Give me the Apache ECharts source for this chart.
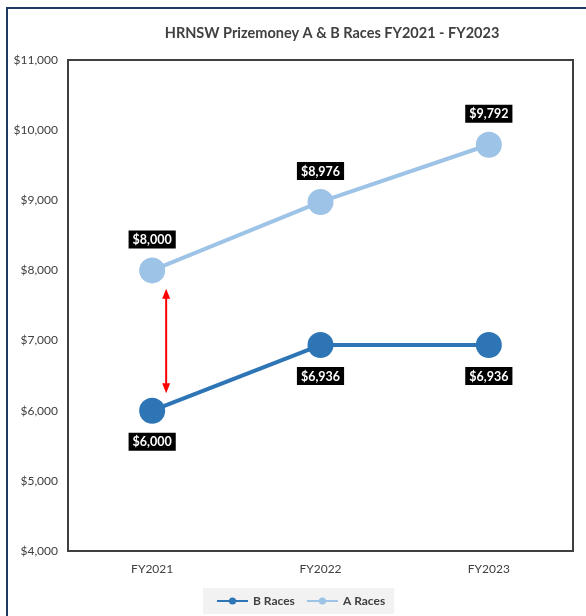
<!DOCTYPE html>
<html>
<head>
<meta charset="utf-8">
<script src="https://cdn.jsdelivr.net/npm/echarts@6/dist/echarts.min.js"></script>
<style>html,body{margin:0;padding:0;background:#fff;}#c{width:586px;height:616px;}</style>
</head>
<body>
<div id="c"></div>
<script>
const categories = ['FY2021', 'FY2022', 'FY2023'];
const bRaces = [6000, 6936, 6936];
const aRaces = [8000, 8976, 9792];
const yTicks = { min: 4000, max: 11000, interval: 1000 };
const arrowSpan = [7740, 6250]; // red double arrow between A and B at FY2021

const chart = echarts.init(document.getElementById('c'));
const fmt = v => '$' + v.toLocaleString('en-US');
const FONT = 'Lato, "Open Sans", sans-serif';
const labelStyle = {
  show: true,
  formatter: p => fmt(p.value),
  color: '#fff',
  backgroundColor: '#000',
  fontFamily: FONT,
  fontWeight: 'bold',
  fontSize: 12.5,
  padding: [3, 4, 2, 4],
  distance: 9
};

chart.setOption({
  animation: false,
  backgroundColor: '#fff',
  graphic: [{
    type: 'rect',
    shape: { x: 7, y: 8, width: 620, height: 640 },
    style: { fill: 'none', stroke: '#1F3864', lineWidth: 2 },
    silent: true
  }],
  title: {
    text: 'HRNSW Prizemoney A & B Races FY2021 - FY2023',
    left: 327, top: 21, textAlign: 'center',
    textStyle: { fontFamily: FONT, fontWeight: 'bold', fontSize: 14.5, color: '#404040' }
  },
  grid: {
    left: 68, right: 13, top: 60, bottom: 65,
    show: true, borderColor: '#404040', borderWidth: 2, backgroundColor: 'transparent'
  },
  legend: {
    top: 588, left: 203,
    backgroundColor: '#F2F2F2',
    padding: [7, 9, 7, 13],
    itemWidth: 31, itemHeight: 9, itemGap: 11,
    itemStyle: {},
    textStyle: { fontFamily: FONT, fontWeight: 'bold', fontSize: 12, color: '#404040' },
    data: ['B Races', 'A Races']
  },
  xAxis: {
    type: 'category', data: categories, boundaryGap: true,
    axisLine: { show: true, lineStyle: { color: '#404040', width: 2 } },
    axisTick: { show: false },
    axisLabel: { color: '#404040', fontFamily: FONT, fontSize: 12, margin: 12 },
    splitLine: { show: false }
  },
  yAxis: {
    type: 'value', min: yTicks.min, max: yTicks.max, interval: yTicks.interval,
    axisLine: { show: false }, axisTick: { show: false },
    splitLine: { show: false },
    axisLabel: { formatter: fmt, color: '#404040', fontFamily: FONT, fontSize: 12, margin: 10 }
  },
  series: [
    {
      name: 'B Races', type: 'line', data: bRaces,
      symbol: 'circle', symbolSize: 26,
      lineStyle: { color: '#2E75B6', width: 4 },
      itemStyle: { color: '#2E75B6' },
      label: Object.assign({}, labelStyle, { position: 'bottom' }),
      z: 3
    },
    {
      name: 'A Races', type: 'line', data: aRaces,
      symbol: 'circle', symbolSize: 26,
      lineStyle: { color: '#9DC3E6', width: 4 },
      itemStyle: { color: '#9DC3E6' },
      label: Object.assign({}, labelStyle, { position: 'top' }),
      z: 3
    },
    {
      type: 'custom', name: 'arrow', silent: true, z: 5,
      data: [[0, arrowSpan[0], arrowSpan[1]]],
      renderItem: function (params, api) {
        const p1 = api.coord([api.value(0), api.value(1)]);
        const p2 = api.coord([api.value(0), api.value(2)]);
        const x = p1[0] + 14;
        const y1 = p1[1], y2 = p2[1];
        const h = 10, w = 4;
        return {
          type: 'group',
          children: [
            { type: 'line', shape: { x1: x, y1: y1 + h - 1, x2: x, y2: y2 - h + 1 }, style: { stroke: '#FF0000', lineWidth: 2 } },
            { type: 'polygon', shape: { points: [[x, y1], [x - w, y1 + h], [x + w, y1 + h]] }, style: { fill: '#FF0000' } },
            { type: 'polygon', shape: { points: [[x, y2], [x - w, y2 - h], [x + w, y2 - h]] }, style: { fill: '#FF0000' } }
          ]
        };
      }
    }
  ]
});
</script>
</body>
</html>
